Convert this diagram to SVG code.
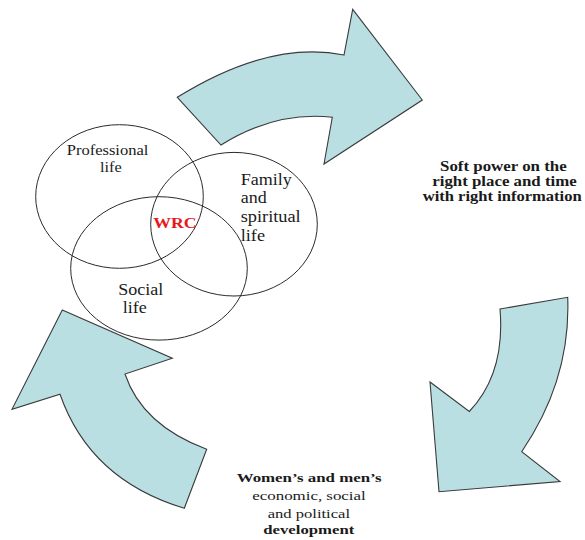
<svg xmlns="http://www.w3.org/2000/svg" width="585" height="540" viewBox="0 0 585 540">
  <style>
    .arrow { fill: #b9dfe3; stroke: #3a3a3a; stroke-width: 1.1; stroke-linejoin: miter; }
    .ring { fill: none; stroke: #2b2b2b; stroke-width: 1; }
    .lbl { font-family: "Liberation Serif", "Times New Roman", serif; fill: #1a1a1a; }
    .bold { font-weight: bold; }
    .wrc { font-family: "Liberation Serif", "Times New Roman", serif; font-weight: bold; fill: #e8181c; }
  </style>
  <rect width="585" height="540" fill="#ffffff"/>

  <!-- Curved block arrows forming the cycle -->
  <g id="connectors">
    <path id="arrow-top" class="arrow" d="M177.3,97.3 Q269.5,40 344,55 L352.7,9.3 L422.3,100 L324,164 L332.3,117.3 Q275.5,111 221,145 Z"/>
    <path id="arrow-right" class="arrow" d="M500,309 L567.7,297.3 Q571,379.5 521.7,451.7 L560,481.5 L439,491.7 L430,382 L469.3,411.5 Q505.5,373.4 500,309 Z"/>
    <path id="arrow-left" class="arrow" d="M62.3,310 L172.3,358.3 L125,374 Q142,425 206.7,449.3 L184.3,508.3 Q90,480 60,394.3 L12,409.3 Z"/>
  </g>

  <!-- Venn diagram of life spheres -->
  <g id="professional-life">
    <ellipse class="ring" cx="119.5" cy="196.5" rx="83.8" ry="71.8"/>
    <text class="lbl" font-size="15.5" x="66.7" y="154.5" textLength="81.7" lengthAdjust="spacingAndGlyphs">Professional</text>
    <text class="lbl" font-size="15.5" x="100" y="171.8" textLength="21.7" lengthAdjust="spacingAndGlyphs">life</text>
  </g>
  <g id="family-spiritual-life">
    <ellipse class="ring" cx="234" cy="224.2" rx="83.3" ry="71.8"/>
    <text class="lbl" font-size="16.5" x="240.7" y="184.5" textLength="51" lengthAdjust="spacingAndGlyphs">Family</text>
    <text class="lbl" font-size="16.5" x="240.7" y="203.3" textLength="26" lengthAdjust="spacingAndGlyphs">and</text>
    <text class="lbl" font-size="16.5" x="240.7" y="222.3" textLength="60" lengthAdjust="spacingAndGlyphs">spiritual</text>
    <text class="lbl" font-size="16.5" x="240.7" y="240.7" textLength="24.3" lengthAdjust="spacingAndGlyphs">life</text>
  </g>
  <g id="social-life">
    <ellipse class="ring" cx="159" cy="268.4" rx="88.3" ry="71.7"/>
    <text class="lbl" font-size="17" x="118.3" y="295" textLength="45" lengthAdjust="spacingAndGlyphs">Social</text>
    <text class="lbl" font-size="17" x="122.7" y="313.3" textLength="24" lengthAdjust="spacingAndGlyphs">life</text>
  </g>
  <g id="wrc">
    <text class="wrc" font-size="15.5" x="153.3" y="228.3" textLength="43.4" lengthAdjust="spacingAndGlyphs">WRC</text>
  </g>

  <!-- Outcome labels beside the cycle -->
  <g id="soft-power">
    <text class="lbl bold" font-size="14" x="440" y="171" textLength="126.7" lengthAdjust="spacingAndGlyphs">Soft power on the</text>
    <text class="lbl bold" font-size="14" x="432.3" y="186" textLength="144.4" lengthAdjust="spacingAndGlyphs">right place and time</text>
    <text class="lbl bold" font-size="14" x="422.7" y="201" textLength="159" lengthAdjust="spacingAndGlyphs">with right information</text>
  </g>
  <g id="development">
    <text class="lbl bold" font-size="13.5" x="236.7" y="482" textLength="145" lengthAdjust="spacingAndGlyphs">Women’s and men’s</text>
    <text class="lbl" font-size="13.5" x="252.3" y="500" textLength="113.4" lengthAdjust="spacingAndGlyphs">economic, social</text>
    <text class="lbl" font-size="13.5" x="267.7" y="517.5" textLength="82.3" lengthAdjust="spacingAndGlyphs">and political</text>
    <text class="lbl bold" font-size="13.5" x="263.3" y="534" textLength="91" lengthAdjust="spacingAndGlyphs">development</text>
  </g>
</svg>
